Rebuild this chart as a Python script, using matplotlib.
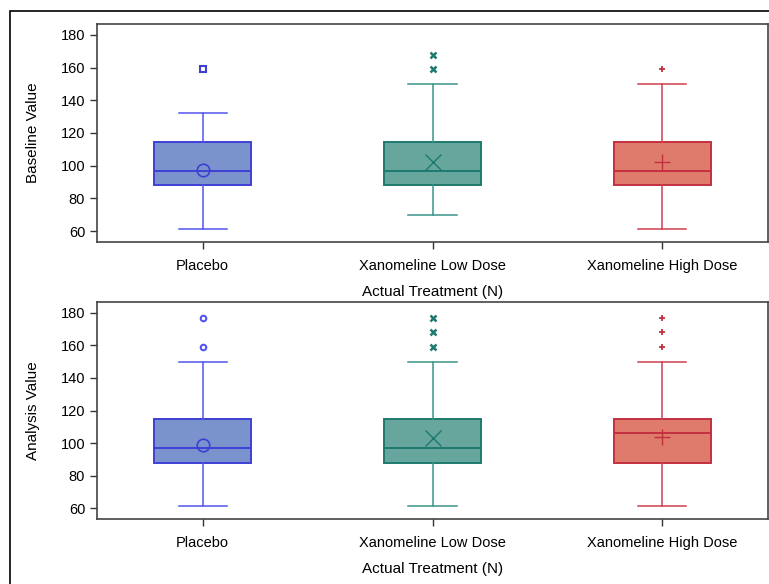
import matplotlib
matplotlib.use("Agg")
import matplotlib.pyplot as plt
from matplotlib.patches import Rectangle

plt.rcParams["font.family"] = ["Liberation Sans", "DejaVu Sans"]

treatments = ["Placebo", "Xanomeline Low Dose", "Xanomeline High Dose"]

# baseline value panel
base_whislo = [61, 70, 61]
base_q1 = [88, 88, 88]
base_med = [97, 97, 97]
base_q3 = [114.5, 114.5, 114.5]
base_whishi = [132, 150, 150]
base_mean = [97.5, 102, 102]
base_fliers = [[159], [159, 168], [159]]

# analysis value panel
anl_whislo = [61, 61, 61]
anl_q1 = [88, 88, 88]
anl_med = [97, 97, 106]
anl_q3 = [114.5, 114.5, 114.5]
anl_whishi = [150, 150, 150]
anl_mean = [99, 103, 104]
anl_fliers = [[159, 177], [159, 168, 177], [159, 168, 177]]

fills = ["#7B93CC", "#66A69C", "#DE7B6C"]
edges = ["#3F3FD6", "#1E7A6E", "#C42F3F"]
whisk = ["#5555EE", "#3A9488", "#D04050"]
mean_markers = ["o", "x", "+"]
top_flier_markers = ["s", "x", "+"]
bot_flier_markers = ["o", "x", "+"]


def draw_panel(ax, whislo, q1, med, q3, whishi, mean, fliers, flier_markers, ylabel):
    for i in range(len(treatments)):
        stats = [{
            "whislo": whislo[i], "q1": q1[i], "med": med[i], "q3": q3[i],
            "whishi": whishi[i], "mean": mean[i], "fliers": [],
        }]
        ax.bxp(
            stats, positions=[i], widths=0.42, patch_artist=True,
            showmeans=False, showfliers=False, capwidths=0.21,
            boxprops=dict(facecolor=fills[i], edgecolor=edges[i], linewidth=1.4),
            medianprops=dict(color=edges[i], linewidth=1.4),
            whiskerprops=dict(color=whisk[i], linewidth=1.1),
            capprops=dict(color=whisk[i], linewidth=1.1),
        )
        mk = mean_markers[i]
        if mk == "o":
            ax.plot(i, mean[i], marker="o", ms=9, mfc="none", mec=edges[i], mew=1.2)
        else:
            ax.plot(i, mean[i], marker=mk, ms=12, color=edges[i], mew=1.0)
        fm = flier_markers[i]
        fy = fliers[i]
        if fm in ("o", "s"):
            ax.plot([i] * len(fy), fy, ls="none", marker=fm, ms=4,
                    mfc="white", mec=whisk[i] if fm == "o" else edges[i], mew=1.5)
        else:
            ax.plot([i] * len(fy), fy, ls="none", marker=fm, ms=4.5,
                    color=edges[i], mew=1.8 if fm == "x" else 1.3)

    ax.set_xlim(-0.46, 2.46)
    ax.set_ylim(53.3, 186.7)
    ax.set_yticks([60, 80, 100, 120, 140, 160, 180])
    ax.set_xticks(range(len(treatments)))
    ax.set_xticklabels(treatments)
    ax.tick_params(labelsize=10.5, color="#333333", length=5, width=1)
    ax.tick_params(axis="x", pad=7)
    ax.set_ylabel(ylabel, fontsize=11, labelpad=15)
    ax.set_xlabel("Actual Treatment (N)", fontsize=11, labelpad=9)
    for s in ax.spines.values():
        s.set_color("#444444")
        s.set_linewidth(1.2)


fig = plt.figure(figsize=(7.69, 5.84), dpi=100)
W, H = 769, 584
ax1 = fig.add_axes([97 / W, 1 - 242 / H, (768 - 97) / W, (242 - 24) / H])
ax2 = fig.add_axes([97 / W, 1 - 519 / H, (768 - 97) / W, (519 - 302) / H])

draw_panel(ax1, base_whislo, base_q1, base_med, base_q3, base_whishi,
           base_mean, base_fliers, top_flier_markers, "Baseline Value")
draw_panel(ax2, anl_whislo, anl_q1, anl_med, anl_q3, anl_whishi,
           anl_mean, anl_fliers, bot_flier_markers, "Analysis Value")

fig.patches.append(Rectangle((10 / W, -0.1), 1.2, 1 - 11 / H + 0.1,
                             transform=fig.transFigure, fill=False,
                             edgecolor="black", linewidth=1.2))

fig.savefig("out.png", dpi=100)
